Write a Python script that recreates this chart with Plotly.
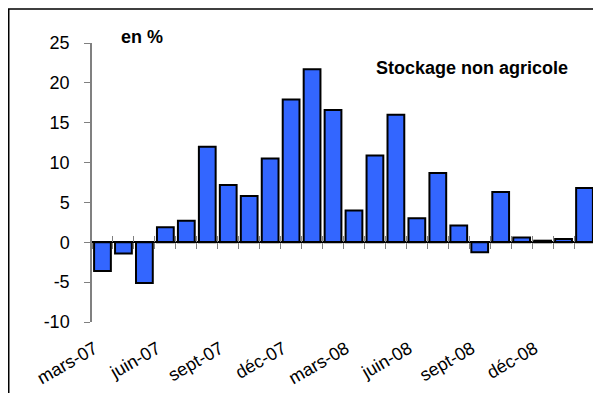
import plotly.graph_objects as go

months = ["mars-07", "avr-07", "mai-07", "juin-07", "juil-07", "août-07",
          "sept-07", "oct-07", "nov-07", "déc-07", "janv-08", "févr-08",
          "mars-08", "avr-08", "mai-08", "juin-08", "juil-08", "août-08",
          "sept-08", "oct-08", "nov-08", "déc-08", "janv-09", "févr-09"]
values = [-3.6, -1.4, -5.1, 1.9, 2.7, 12.0, 7.2, 5.8, 10.5, 17.9, 21.7, 16.6,
          4.0, 10.9, 16.0, 3.0, 8.7, 2.1, -1.25, 6.3, 0.6, 0.2, 0.4, 6.8]
tick_labels = ["mars-07", "juin-07", "sept-07", "déc-07",
               "mars-08", "juin-08", "sept-08", "déc-08"]
y_ticks = [-10, -5, 0, 5, 10, 15, 20, 25]

FONT = "Arial, Liberation Sans, sans-serif"
n = len(months)
xs = list(range(n))
bounds = [i - 0.5 for i in range(n + 1)]
y_range = [-10, 25]
zero_pos = (0 - y_range[0]) / (y_range[1] - y_range[0])

# the page body has an 8px margin: figure coords = page coords - 8
W, H = 593, 385
L, T, PW, PH = 84, 35, 503, 279
R = W - L - PW
B = H - T - PH


def px_x(page_x):
    return (page_x - 8 - L) / PW


def px_y(page_y):
    return (T + PH - (page_y - 8)) / PH


fig = go.Figure()
fig.add_trace(go.Bar(
    x=xs, y=values, hovertext=months,
    marker=dict(color="#3366ff", line=dict(color="black", width=2)),
    showlegend=False,
))
fig.add_trace(go.Scatter(x=[None], y=[None], xaxis="x2", mode="markers",
                         showlegend=False, hoverinfo="skip"))
fig.add_trace(go.Scatter(x=[None], y=[None], xaxis="x3", mode="markers",
                         showlegend=False, hoverinfo="skip"))

fig.update_layout(
    width=W, height=H,
    margin=dict(l=L, r=R, t=T, b=B, autoexpand=False),
    paper_bgcolor="white", plot_bgcolor="white",
    bargap=0.2,
    font=dict(family=FONT, size=18, color="black"),
    xaxis=dict(
        range=[-0.5, n - 0.5], anchor="free", position=zero_pos,
        showline=True, linecolor="black", linewidth=1.5,
        tickmode="array", tickvals=bounds, ticks="outside", ticklen=6,
        tickcolor="#808080", tickwidth=1,
        showticklabels=False, showgrid=False, zeroline=False,
    ),
    xaxis3=dict(
        range=[-0.5, n - 0.5], anchor="free", position=zero_pos,
        overlaying="x", showline=False,
        tickmode="array", tickvals=bounds, ticks="inside", ticklen=6,
        tickcolor="#808080", tickwidth=1,
        showticklabels=False, showgrid=False, zeroline=False,
    ),
    xaxis2=dict(
        range=[-0.5, n - 0.5], anchor="y", overlaying="x", side="bottom",
        showline=False, ticks="", showgrid=False, zeroline=False,
        tickmode="array", tickvals=[months.index(t) for t in tick_labels],
        ticktext=tick_labels, tickangle=-30,
        ticklabelshift=-8, ticklabelstandoff=12,
        tickfont=dict(family=FONT, size=18, color="black"),
    ),
    yaxis=dict(
        range=y_range, tickmode="array", tickvals=y_ticks,
        ticktext=[str(v) for v in y_ticks],
        showline=True, linecolor="#808080", linewidth=1.5,
        ticks="outside", ticklen=6, tickcolor="#808080", tickwidth=1,
        ticklabelstandoff=11, showgrid=False, zeroline=False,
        tickfont=dict(family=FONT, size=18, color="black"),
    ),
    annotations=[
        dict(text="<b>en %</b>", xref="paper", yref="paper",
             x=px_x(119), y=px_y(37),
             xanchor="left", yanchor="middle", showarrow=False,
             font=dict(family=FONT, size=18, color="black")),
        dict(text="<b>Stockage non agricole</b>", xref="paper", yref="paper",
             x=px_x(374), y=px_y(68),
             xanchor="left", yanchor="middle", showarrow=False,
             font=dict(family=FONT, size=18, color="black")),
    ],
    shapes=[dict(type="rect", xref="paper", yref="paper",
                 x0=px_x(8.75), x1=px_x(640),
                 y0=px_y(440), y1=px_y(9),
                 line=dict(color="black", width=1.5), layer="below")],
)

fig.write_html("out.html")
